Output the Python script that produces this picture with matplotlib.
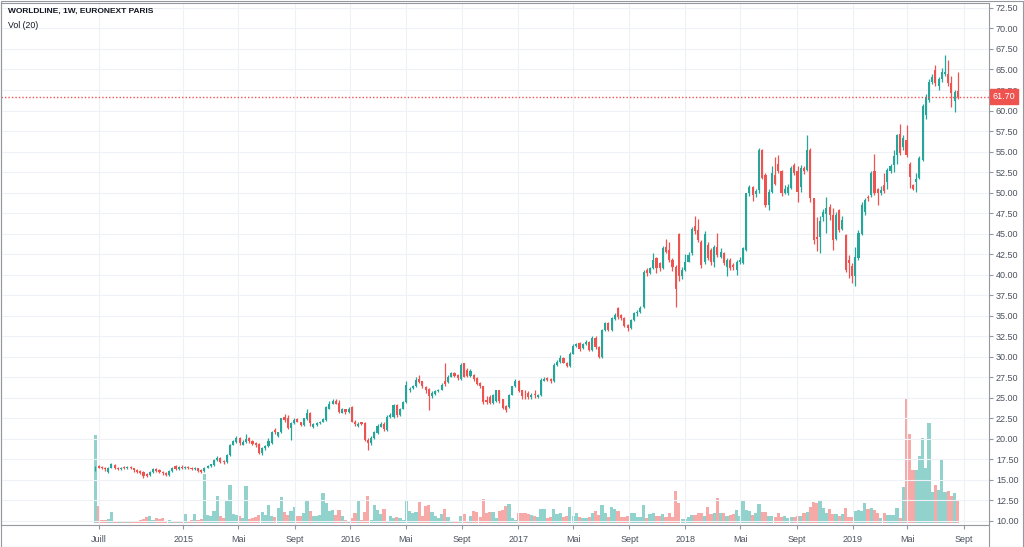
"""Weekly candlestick chart of WORLDLINE with volume, TradingView look."""

import matplotlib
matplotlib.use("Agg")
import matplotlib.pyplot as plt
import matplotlib.dates as mdates
import matplotlib.transforms as mtransforms
from matplotlib.lines import Line2D
from matplotlib.patches import Rectangle
import numpy as np
import pandas as pd

FIRST_WEEK = "2014-06-23"

opens = [
    16.4, 16.7, 16.6, 16.5, 16.0, 16.5, 16.8, 16.5, 16.3, 16.6, 16.4, 16.6, 16.4, 16.2, 16.1, 16.0, 15.7,
    15.6, 16.0, 16.3, 16.2, 16.0, 15.9, 15.6, 16.1, 16.7, 16.3, 16.6, 16.4, 16.6, 16.5, 16.3, 16.4,
    16.2, 16.1, 16.5, 16.7, 16.8, 17.4, 17.7, 17.3, 17.2, 18.0, 19.3, 19.6, 20.1, 19.3, 19.6, 20.1, 19.8,
    19.5, 19.4, 18.3, 18.9, 19.1, 19.5, 21.1, 20.3, 20.8, 22.7, 22.6, 21.3, 21.9, 22.4, 22.0, 21.7, 22.4, 23.1,
    21.5, 21.7, 21.9, 22.1, 22.3, 23.7, 24.3, 24.6, 24.4, 23.2, 23.6, 23.3, 23.9, 22.1, 21.6, 22.0, 21.9, 19.9,
    19.5, 20.1, 20.7, 21.5, 21.8, 21.1, 22.7, 22.7, 24.1, 22.9, 23.7, 24.5, 25.9, 26.2, 26.4, 27.3, 27.0, 26.3,
    26.1, 25.2, 25.5, 25.8, 26.0, 27.0, 26.9, 27.6, 28.0, 27.8, 27.3, 29.2, 28.4, 27.7, 27.8, 27.4, 26.8,
    26.4, 24.7, 25.1, 24.4, 24.6, 25.9, 24.8, 24.0, 23.9, 25.4, 26.4, 27.0, 25.9, 25.4, 25.6, 25.1, 25.5,
    25.1, 25.3, 27.1, 27.4, 27.3, 27.0, 29.0, 29.4, 29.9, 29.3, 28.9, 30.4, 31.3, 31.7, 31.1, 31.5, 31.8,
    30.8, 32.3, 31.2, 30.0, 33.3, 34.1, 33.3, 34.6, 36.0, 35.1, 34.7, 33.9, 33.5, 34.5, 35.3, 35.5, 36.1,
    40.6, 40.2, 40.8, 42.0, 41.4, 40.8, 43.4, 43.0, 41.8, 41.0, 45.0, 39.8, 40.6, 41.6, 42.6, 45.9, 45.5, 44.0,
    41.5, 43.6, 43.0, 41.6, 43.4, 42.2, 42.6, 41.0, 41.8, 41.2, 40.6, 41.5, 41.4, 43.0, 49.9, 50.7, 49.8,
    50.3, 55.2, 52.2, 48.5, 50.1, 52.1, 53.5, 52.6, 50.0, 49.9, 50.6, 53.4, 52.6, 50.7, 53.0, 52.8, 55.2,
    49.3, 44.6, 44.6, 47.0, 47.4, 48.2, 47.3, 44.4, 47.9, 45.6, 44.8, 41.8, 41.1, 39.8, 42.0, 45.0, 47.6,
    49.5, 49.7, 52.6, 50.4, 49.9, 50.9, 51.3, 52.6, 53.4, 54.6, 57.2, 55.6, 56.4, 53.5, 50.9, 51.3, 51.8,
    54.0, 59.4, 61.3, 63.5, 64.9, 63.0, 63.8, 64.4, 64.5, 63.4, 61.2, 62.4,
]
highs = [
    16.7, 16.8, 16.7, 16.6, 16.6, 17.1, 16.9, 16.6, 16.6, 16.7, 16.7, 16.7, 16.5, 16.3, 16.2, 16.1, 15.8,
    16.1, 16.4, 16.4, 16.3, 16.1, 16.0, 16.2, 16.6, 16.8, 16.7, 16.8, 16.7, 16.7, 16.6, 16.6, 16.5,
    16.3, 16.6, 16.8, 17.0, 17.5, 17.9, 17.8, 17.4, 18.1, 19.4, 19.9, 20.3, 20.2, 19.9, 20.6, 20.2, 19.9,
    19.6, 19.5, 19.0, 19.3, 20.1, 21.0, 21.3, 20.9, 22.6, 23.0, 22.9, 22.1, 22.5, 22.6, 22.1, 22.6, 23.6, 23.3,
    21.9, 22.0, 22.2, 22.5, 24.0, 24.6, 24.9, 24.8, 24.7, 23.8, 23.7, 23.9, 24.0, 22.3, 22.0, 22.1, 22.0, 20.1,
    20.3, 21.0, 21.8, 22.0, 22.0, 22.9, 23.1, 24.2, 24.2, 23.8, 24.6, 27.0, 26.3, 26.6, 27.6, 27.8, 27.1, 26.5,
    26.2, 25.8, 26.0, 26.1, 26.8, 29.2, 27.8, 28.1, 28.1, 27.9, 29.2, 29.3, 28.6, 28.5, 27.9, 27.5, 26.9,
    26.5, 25.2, 25.3, 25.5, 26.0, 26.0, 24.9, 24.1, 25.5, 26.5, 27.3, 27.2, 26.0, 26.0, 25.8, 25.6, 26.0,
    25.5, 27.4, 27.5, 27.5, 27.4, 29.2, 29.6, 30.2, 30.0, 29.4, 30.6, 31.5, 31.7, 31.8, 31.7, 32.0, 31.9,
    32.5, 32.5, 31.3, 33.4, 34.3, 34.2, 34.8, 35.3, 36.1, 35.2, 34.8, 34.0, 34.6, 35.4, 35.7, 36.2, 40.6,
    40.8, 41.0, 42.6, 42.2, 41.6, 43.5, 44.3, 44.0, 42.0, 41.2, 45.1, 41.0, 42.5, 42.8, 45.8, 47.1, 46.8, 44.2,
    45.3, 44.0, 43.2, 43.6, 45.1, 43.2, 42.8, 42.0, 42.0, 41.4, 41.8, 42.2, 43.4, 50.0, 50.9, 50.8, 50.4,
    55.4, 55.3, 52.4, 50.5, 53.3, 54.4, 54.6, 52.8, 50.9, 51.0, 53.2, 53.6, 53.2, 53.4, 53.2, 57.0, 55.4,
    49.4, 47.0, 47.1, 48.0, 49.5, 48.6, 48.1, 47.6, 48.0, 47.1, 45.0, 42.4, 41.4, 43.4, 45.4, 48.8, 49.3,
    49.7, 52.6, 54.7, 50.6, 50.8, 52.4, 53.0, 53.5, 55.2, 57.2, 58.4, 57.0, 58.2, 53.7, 51.1, 52.4, 54.5,
    60.8, 62.0, 63.8, 64.4, 65.6, 64.1, 65.2, 66.8, 66.2, 64.2, 62.5, 64.7,
]
lows = [
    16.1, 16.4, 16.3, 16.1, 15.8, 16.4, 16.3, 16.2, 16.2, 16.3, 16.3, 16.3, 16.0, 15.9, 15.7, 15.2, 15.3,
    15.5, 15.9, 16.0, 15.9, 15.6, 15.5, 15.5, 16.0, 16.2, 16.2, 16.3, 16.3, 16.3, 16.2, 16.2, 16.0,
    15.9, 16.0, 16.4, 16.6, 16.7, 17.3, 17.1, 17.0, 17.1, 17.9, 19.2, 19.5, 19.3, 19.2, 19.5, 19.5, 19.2,
    19.0, 18.2, 18.0, 18.7, 19.0, 19.4, 20.6, 20.2, 20.7, 22.1, 21.2, 19.9, 21.8, 22.0, 21.6, 21.6, 22.3, 21.6,
    21.3, 21.6, 21.8, 22.0, 22.2, 23.6, 24.2, 24.2, 23.2, 23.1, 23.0, 23.2, 22.0, 21.6, 21.4, 21.7, 19.8, 18.7,
    19.3, 20.0, 20.6, 21.4, 21.0, 21.0, 22.6, 22.6, 22.7, 22.8, 23.6, 24.4, 25.7, 26.1, 26.3, 26.8, 26.2, 25.6,
    23.5, 25.0, 25.4, 25.7, 25.9, 26.5, 26.8, 27.5, 27.5, 27.2, 27.2, 27.5, 27.6, 27.6, 27.1, 26.6, 26.2,
    24.3, 24.3, 24.2, 24.3, 24.5, 24.4, 23.6, 23.3, 23.8, 25.3, 26.3, 25.7, 24.9, 24.9, 24.9, 24.9, 25.0,
    25.0, 25.2, 27.0, 27.0, 26.8, 26.9, 28.9, 29.3, 29.2, 28.7, 28.8, 30.3, 31.2, 30.7, 31.0, 31.4, 30.7,
    30.7, 31.0, 29.9, 29.9, 33.2, 33.1, 33.2, 34.5, 34.6, 34.5, 33.6, 33.2, 33.4, 34.4, 35.0, 35.3, 36.0,
    39.8, 40.1, 40.7, 40.2, 40.5, 40.7, 42.6, 41.6, 40.5, 36.1, 39.2, 39.5, 40.4, 41.5, 42.4, 45.0, 44.0, 40.8,
    41.3, 41.8, 41.2, 41.0, 42.2, 42.0, 41.2, 39.9, 40.6, 40.6, 40.0, 41.3, 41.3, 42.9, 49.6, 49.0, 49.5,
    50.0, 51.6, 48.2, 47.9, 50.0, 50.9, 52.4, 49.6, 49.8, 49.7, 50.4, 52.2, 48.8, 50.1, 52.3, 52.6, 48.8,
    43.8, 42.9, 42.6, 46.5, 45.1, 46.7, 43.0, 44.2, 45.2, 45.4, 40.3, 39.6, 39.0, 38.6, 41.8, 44.8, 47.3,
    49.0, 49.5, 49.7, 48.5, 49.7, 49.9, 50.5, 52.4, 52.5, 53.5, 54.6, 55.2, 54.4, 50.6, 50.3, 50.1, 51.6,
    53.9, 59.0, 61.1, 63.2, 63.0, 62.5, 63.5, 64.2, 63.0, 60.4, 59.8, 61.4,
]
closes = [
    16.5, 16.5, 16.4, 16.3, 16.5, 16.9, 16.5, 16.3, 16.5, 16.4, 16.6, 16.4, 16.2, 16.0, 15.9, 15.5, 15.5,
    16.0, 16.3, 16.1, 16.0, 15.8, 15.6, 16.1, 16.5, 16.3, 16.6, 16.4, 16.6, 16.4, 16.3, 16.5, 16.1,
    16.0, 16.5, 16.7, 16.9, 17.4, 17.7, 17.2, 17.2, 18.0, 19.3, 19.7, 20.1, 19.5, 19.6, 20.0, 19.8, 19.4,
    19.3, 18.3, 18.9, 19.1, 19.7, 20.9, 20.8, 20.8, 22.5, 22.3, 21.3, 21.9, 22.3, 22.1, 21.7, 22.5, 23.2, 21.9,
    21.8, 21.9, 22.1, 22.4, 23.9, 24.3, 24.6, 24.3, 23.3, 23.6, 23.3, 23.7, 22.1, 21.8, 21.8, 21.8, 19.9, 19.5,
    20.1, 20.8, 21.6, 21.8, 21.2, 22.7, 22.9, 24.1, 22.9, 23.7, 24.5, 26.6, 26.1, 26.4, 27.2, 26.9, 26.4, 25.9,
    25.2, 25.6, 25.8, 26.0, 26.6, 26.7, 27.6, 28.0, 27.7, 27.4, 29.0, 27.6, 27.7, 28.3, 27.3, 26.7, 26.4,
    24.5, 24.5, 24.4, 25.3, 25.9, 24.6, 23.8, 23.5, 25.4, 26.4, 27.0, 25.8, 25.2, 25.3, 25.1, 25.4, 25.3,
    25.3, 27.2, 27.3, 27.2, 27.0, 29.0, 29.4, 29.9, 29.3, 28.9, 30.4, 31.3, 31.5, 30.9, 31.5, 31.8, 30.8,
    32.3, 31.2, 30.0, 33.3, 34.1, 33.3, 34.7, 35.1, 34.9, 34.7, 33.8, 33.5, 34.5, 35.3, 35.5, 36.0, 40.3,
    40.2, 40.8, 41.8, 40.8, 40.8, 43.2, 42.8, 41.8, 41.0, 38.2, 39.8, 40.6, 41.6, 42.4, 45.6, 45.3, 44.2, 41.2,
    45.0, 42.0, 41.6, 43.4, 42.4, 42.8, 41.4, 41.8, 40.8, 40.9, 41.6, 41.8, 43.2, 49.9, 50.7, 49.7, 50.2,
    55.2, 51.8, 48.5, 50.1, 52.4, 51.1, 52.6, 49.9, 50.5, 50.7, 53.0, 52.4, 50.1, 53.0, 52.6, 55.2, 49.3,
    44.2, 44.4, 46.5, 47.6, 48.1, 47.3, 44.2, 47.3, 45.5, 46.7, 40.6, 41.4, 39.8, 42.2, 45.1, 48.5, 49.1,
    49.3, 52.4, 49.9, 49.9, 50.3, 50.2, 52.7, 53.3, 54.5, 57.0, 54.8, 56.6, 54.6, 51.9, 50.5, 51.7, 54.2,
    60.5, 61.7, 63.5, 64.1, 63.3, 63.8, 64.7, 64.7, 63.3, 62.1, 62.2, 61.7,
]
# weekly volume, relative units
volumes = [
    88, 17, 3, 3, 4, 11, 1, 1, 2, 2, 2, 2, 1, 2, 3, 4, 6, 7, 3, 5, 4, 5, 2, 3, 2, 1, 1, 2, 9, 2, 3, 9, 3, 4, 49,
    8, 7, 12, 27, 7, 5, 22, 38, 9, 8, 7, 5, 37, 4, 5, 6, 8, 11, 8, 18, 7, 6, 15, 26, 11, 8, 12, 16, 7, 7, 10, 22, 12,
    7, 7, 8, 30, 20, 12, 13, 8, 13, 7, 3, 1, 5, 10, 23, 3, 11, 27, 3, 18, 13, 9, 14, 2, 7, 5, 6, 5, 3, 22, 12, 10,
    11, 21, 7, 17,
    18, 11, 7, 5, 9, 14, 6, 2, 2, 2, 7, 9, 1, 7, 12, 11, 6, 24, 10, 11, 11, 5, 12, 13, 17, 19, 5, 3, 10, 10, 10, 9,
    8, 7,
    6, 14, 14, 5, 6, 14, 9, 10, 6, 7, 16, 7, 10, 6, 5, 5, 6, 10, 12, 8, 18, 10, 6, 16, 14, 12, 6, 6, 7, 10, 10, 6,
    6, 18,
    5, 9, 10, 7, 7, 9, 6, 10, 6, 32, 20, 4, 4, 6, 8, 8, 10, 10, 7, 16, 9, 10, 25, 10, 10, 7, 8, 9, 13, 7, 22, 13,
    12, 8, 10,
    19, 11, 11, 7, 7, 6, 10, 6, 7, 5, 6, 6, 7, 7, 10, 11, 16, 21, 20, 23, 15, 10, 14, 9, 9, 7, 9, 15, 6, 6, 12, 13,
    12, 20,
    14, 15, 13, 10, 5, 10, 8, 8, 8, 15, 5, 36, 124, 89, 53, 53, 67, 85, 55, 100, 31, 38, 33, 64, 31, 32, 27, 30, 22,
]

last_price = 61.70
price_ticks = [10.0 + 2.5 * i for i in range(26)]
tick_dates = [
    "2014-07-01", "2015-01-01", "2015-05-01", "2015-09-01", "2016-01-01", "2016-05-01", "2016-09-01",
    "2017-01-01", "2017-05-01", "2017-09-01", "2018-01-01", "2018-05-01", "2018-09-01", "2019-01-01",
    "2019-05-01", "2019-09-01",
]
tick_labels = ["Juill", "2015", "Mai", "Sept", "2016", "Mai", "Sept", "2017", "Mai", "Sept",
               "2018", "Mai", "Sept", "2019", "Mai", "Sept"]

UP, DOWN = "#26a69a", "#ef5350"
UP_VOL, DOWN_VOL = "#92d2cc", "#f7a9a7"
GRID = "#eef1f6"
BORDER = "#9598a1"
TEXT = "#4c525e"

plt.rcParams["font.family"] = ["Liberation Sans", "DejaVu Sans"]

o, h, l, c = (np.array(a, dtype=float) for a in (opens, highs, lows, closes))
v = np.array(volumes, dtype=float)
dates = pd.date_range(FIRST_WEEK, periods=len(closes), freq="7D")
x = mdates.date2num(dates.to_pydatetime())
up = c >= o
body_col = np.where(up, UP, DOWN)
vol_col = np.where(up, UP_VOL, DOWN_VOL)

W, H = 1024, 547
fig = plt.figure(figsize=(W / 100, H / 100), dpi=100)
ax = fig.add_axes([1 / W, 1 - 525 / H, 988 / W, 522 / H])
axv = ax.twinx()
ax.set_zorder(axv.get_zorder() + 1)
ax.patch.set_visible(False)

# volume underlay
axv.bar(x, v, width=6.9, color=vol_col, linewidth=0)
axv.set_ylim(-v.max() * 0.016, v.max() * 4.2)
axv.set_yticks([])
for s in axv.spines.values():
    s.set_visible(False)

# candles
ax.vlines(x, np.minimum(l, np.minimum(o, c)), np.maximum(h, np.maximum(o, c)),
          colors=body_col, linewidth=0.9)
ax.bar(x, np.maximum(np.abs(c - o), 0.07), bottom=np.minimum(o, c), width=4.6,
       color=body_col, linewidth=0)

# last price line + label
ax.axhline(last_price, color=DOWN, linewidth=1.0, linestyle=(0, (1, 1.5)))
trans = mtransforms.blended_transform_factory(ax.transAxes, ax.transData)
ax.text(1.004, last_price, f"{last_price:.2f}", transform=trans, ha="left", va="center",
        fontsize=6.5, color="white", zorder=10, clip_on=False,
        bbox=dict(boxstyle="square,pad=0.3", facecolor=DOWN, edgecolor=DOWN))

ax.set_xlim(mdates.datestr2num("2013-11-29"), mdates.datestr2num("2019-10-26"))
ax.set_ylim(9.51, 73.1)
ax.set_xticks(mdates.datestr2num(tick_dates))
ax.set_xticklabels(tick_labels)
ax.set_yticks(price_ticks)
ax.set_yticklabels([f"{p:.2f}" for p in price_ticks])
ax.yaxis.tick_right()
ax.tick_params(axis="both", labelsize=6.5, labelcolor=TEXT, color=BORDER, length=3, width=0.8)
ax.tick_params(axis="y", pad=2)
ax.tick_params(axis="x", pad=4)
ax.grid(True, color=GRID, linewidth=0.8)
ax.set_axisbelow(True)
for s in ax.spines.values():
    s.set_color(BORDER)
    s.set_linewidth(0.8)

# outer frame and price-axis separator in the time strip
fig.add_artist(Rectangle((0.5 / W, 0.5 / H), (W - 2) / W, (H - 1.5) / H, transform=fig.transFigure,
                         fill=False, edgecolor=BORDER, linewidth=0.8))
fig.add_artist(Line2D([989 / W, 989 / W], [0, 1 - 525 / H], transform=fig.transFigure,
                      color=BORDER, linewidth=0.8))

fig.text(8 / W, 1 - 11 / H, "WORLDLINE, 1W, EURONEXT PARIS", fontsize=6.0, fontweight="bold",
         color="#131722", va="center", ha="left")
fig.text(8 / W, 1 - 26 / H, "Vol (20)", fontsize=6.3, color="#131722", va="center", ha="left")

fig.savefig("out.png", dpi=100, facecolor="white")
